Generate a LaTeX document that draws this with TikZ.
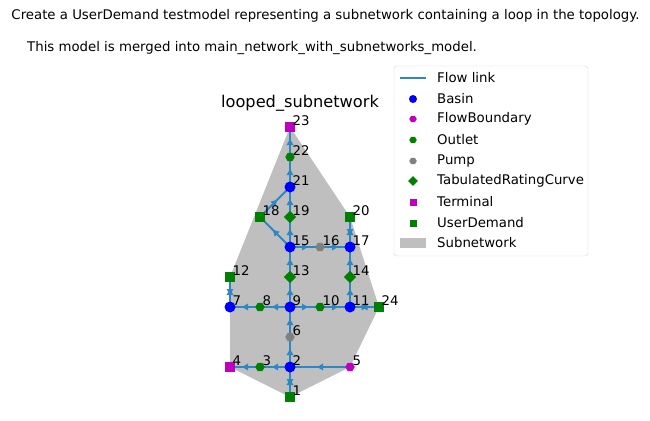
\documentclass[tikz,border=0pt]{standalone}
\usepackage{fontspec}
\setmainfont{DejaVu Sans}
\usetikzlibrary{arrows.meta,decorations.markings,shapes.geometric,calc}
\definecolor{flowc}{RGB}{45,135,195}
\definecolor{hullc}{RGB}{191,191,191}
\definecolor{mag}{RGB}{191,0,191}
\definecolor{grn}{RGB}{0,128,0}
\definecolor{pumpc}{RGB}{128,128,128}
\definecolor{legc}{RGB}{214,214,214}
\pgfdeclarelayer{hull}
\pgfdeclarelayer{edges}
\pgfsetlayers{hull,edges,main}
\tikzset{
  basin/.style={circle,fill=blue,inner sep=0pt,minimum size=11pt},
  fb/.style={regular polygon,regular polygon sides=6,fill=mag,inner sep=0pt,minimum size=9.5pt},
  outlet/.style={fb,fill=grn},
  pump/.style={fb,fill=pumpc},
  trc/.style={diamond,fill=grn,inner sep=0pt,minimum size=12.5pt},
  term/.style={rectangle,fill=mag,inner sep=0pt,minimum size=10pt},
  ud/.style={rectangle,fill=grn,inner sep=0pt,minimum size=10pt},
  txt/.style={font=\fontsize{13.3}{16}\selectfont,inner sep=0pt},
  lbl/.style={txt,anchor=base west},
  flow/.style={draw=flowc,line width=2pt,postaction={decorate},
    decoration={markings,mark=at position 0.5 with {\arrow[xshift=3pt]{Triangle[length=6pt,width=6.5pt]}}}},
}
\newcommand\rnode[4]{\node[#4] (n#1) at (#2,#3) {}; \node[lbl] (l#1) at (#2+2.5,#3-1.5) {#1};}
\begin{document}
\begin{tikzpicture}[x=1pt,y=-1pt]
\useasboundingbox (0,0) rectangle (650,420);
% header
\node[txt] (h1) at (325.5,16) {Create a UserDemand testmodel representing a subnetwork containing a loop in the topology.};
\node[txt,anchor=west] (h2) at (27,48) {This model is merged into main\_network\_with\_subnetworks\_model.};
\node[font=\fontsize{16.2}{20}\selectfont,inner sep=0pt] (title) at (300,103) {looped\_subnetwork};
% nodes
\rnode{1}{290}{397}{ud}
\rnode{2}{290}{367}{basin}
\rnode{3}{260}{367}{outlet}
\rnode{4}{230}{367}{term}
\rnode{5}{350}{367}{fb}
\rnode{6}{290}{337}{pump}
\rnode{7}{230}{307}{basin}
\rnode{8}{260}{307}{outlet}
\rnode{9}{290}{307}{basin}
\rnode{10}{320}{307}{outlet}
\rnode{11}{350}{307}{basin}
\rnode{12}{230}{277}{ud}
\rnode{13}{290}{277}{trc}
\rnode{14}{350}{277}{trc}
\rnode{15}{290}{247}{basin}
\rnode{16}{320}{247}{pump}
\rnode{17}{350}{247}{basin}
\rnode{18}{260}{217}{ud}
\rnode{19}{290}{217}{trc}
\rnode{20}{350}{217}{ud}
\rnode{21}{290}{187}{basin}
\rnode{22}{290}{157}{outlet}
\rnode{23}{290}{127}{term}
\rnode{24}{379}{307}{ud}
% hull
\begin{pgfonlayer}{hull}
\fill[hullc] (n23.center) -- (n20.center) -- (n24.center) -- (n5.center) -- (n1.center) -- (n4.center) -- (n12.center) -- cycle;
\end{pgfonlayer}
% edges
\begin{pgfonlayer}{edges}
\draw[flow] (n2.center) -- (n1.center);
\draw[flow] (n1.center) -- (n2.center);
\draw[flow] (n5.center) -- (n2.center);
\draw[flow] (n2.center) -- (n3.center);
\draw[flow] (n3.center) -- (n4.center);
\draw[flow] (n2.center) -- (n6.center);
\draw[flow] (n6.center) -- (n9.center);
\draw[flow] (n9.center) -- (n8.center);
\draw[flow] (n8.center) -- (n7.center);
\draw[flow] (n7.center) -- (n12.center);
\draw[flow] (n12.center) -- (n7.center);
\draw[flow] (n9.center) -- (n10.center);
\draw[flow] (n10.center) -- (n11.center);
\draw[flow] (n11.center) -- (n24.center);
\draw[flow] (n24.center) -- (n11.center);
\draw[flow] (n9.center) -- (n13.center);
\draw[flow] (n13.center) -- (n15.center);
\draw[flow] (n11.center) -- (n14.center);
\draw[flow] (n14.center) -- (n17.center);
\draw[flow] (n15.center) -- (n16.center);
\draw[flow] (n16.center) -- (n17.center);
\draw[flow] (n17.center) -- (n20.center);
\draw[flow] (n20.center) -- (n17.center);
\draw[flow] (n15.center) -- (n19.center);
\draw[flow] (n19.center) -- (n21.center);
\draw[flow] (n15.center) -- (n18.center);
\draw[flow] (n18.center) -- (n21.center);
\draw[flow] (n21.center) -- (n22.center);
\draw[flow] (n22.center) -- (n23.center);
\end{pgfonlayer}
% legend
\draw[legc,rounded corners=3pt,fill=white,fill opacity=0.8] (394,66) rectangle (588,256);
\coordinate (la) at (400,78);
\coordinate (lb) at (426,78);
\draw[flowc,line width=2pt] (la) -- (lb);
\node[txt,anchor=west] (t1) at (437,78) {Flow link};
\node[basin,minimum size=8pt] (m2) at (413,99) {};
\node[txt,anchor=west] (t2) at (437,99) {Basin};
\node[fb,minimum size=7.5pt] (m3) at (413,119) {};
\node[txt,anchor=west] (t3) at (437,119) {FlowBoundary};
\node[outlet,minimum size=7.5pt] (m4) at (413,140) {};
\node[txt,anchor=west] (t4) at (437,140) {Outlet};
\node[pump,minimum size=7.5pt] (m5) at (413,161) {};
\node[txt,anchor=west] (t5) at (437,161) {Pump};
\node[trc,minimum size=10pt] (m6) at (413,181) {};
\node[txt,anchor=west] (t6) at (437,181) {TabulatedRatingCurve};
\node[term,minimum size=7pt] (m7) at (413,202) {};
\node[txt,anchor=west] (t7) at (437,202) {Terminal};
\node[ud,minimum size=7pt] (m8) at (413,223) {};
\node[txt,anchor=west] (t8) at (437,223) {UserDemand};
\node[rectangle,fill=hullc,minimum width=26pt,minimum height=10pt,inner sep=0pt] (m9) at (413,243) {};
\node[txt,anchor=west] (t9) at (437,243) {Subnetwork};
\end{tikzpicture}
\end{document}
